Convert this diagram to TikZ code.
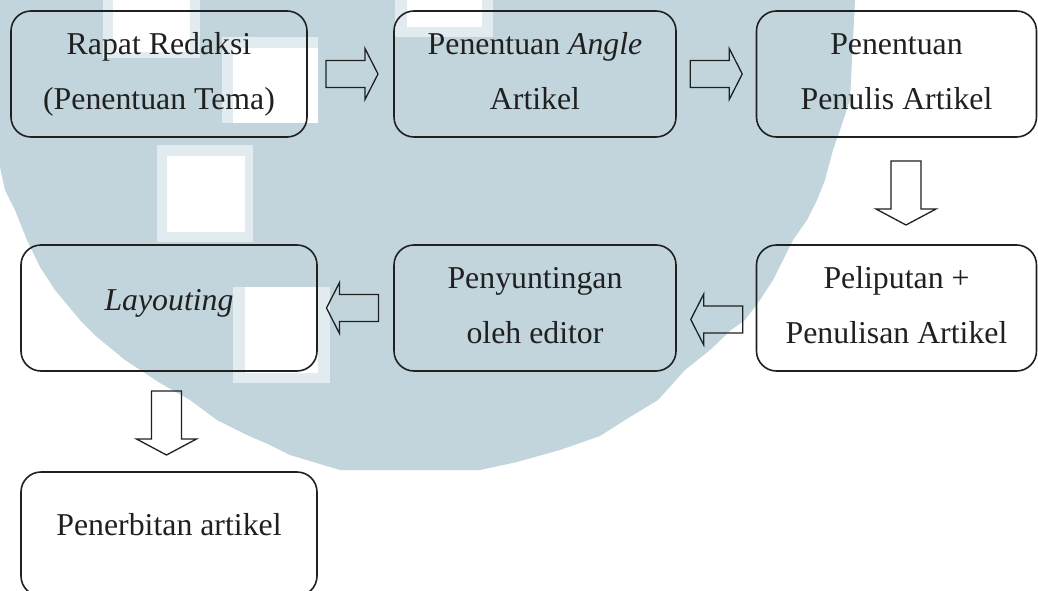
\documentclass[tikz,border=0pt]{standalone}
\usepackage{fontspec}
\setmainfont{Liberation Serif}
\usetikzlibrary{calc}
\definecolor{wm}{RGB}{194,213,220}
\definecolor{wmfringe}{RGB}{226,236,240}
\definecolor{ink}{RGB}{32,32,32}
\newcommand\lnfix{\vphantom{(Ay}}
\tikzset{
  stepbox/.style={draw=ink, line width=1.6pt, rounded corners=20pt, minimum height=126pt,
    inner sep=0pt, align=center, text=ink, font=\fontsize{31.8}{55}\selectfont},
  blk/.style={draw=ink, line width=1.3pt, line join=miter},
  wmsq/.style={fill=wmfringe, draw=none},
  wmin/.style={fill=white, draw=none},
  pics/rarr/.style={code={\draw[blk] (-26,-13.5) -- (13,-13.5) -- (13,-25.5) -- (26,0) -- (13,25.5) -- (13,13.5) -- (-26,13.5) -- cycle;}},
  pics/larr/.style={code={\draw[blk] (26,-13.5) -- (-13,-13.5) -- (-13,-25.5) -- (-26,0) -- (-13,25.5) -- (-13,13.5) -- (26,13.5) -- cycle;}},
  pics/darr/.style={code={\draw[blk] (-15,-32) -- (15,-32) -- (15,16) -- (30,16) -- (0,32) -- (-30,16) -- (-15,16) -- cycle;}},
}
\begin{document}
\begin{tikzpicture}[x=1pt,y=-1pt]
\useasboundingbox (0,0) rectangle (1038,591);
\fill[white] (0,0) rectangle (1038,591);
% watermark
\fill[wm] (0,0) -- (855,0) -- (850,100) -- (840,130) -- (833,150) -- (825,180) -- (817,200) -- (807,220)
  -- (793,240) -- (783,260) -- (773,280) -- (760,300) -- (745,320) -- (731,330) -- (710,350) -- (685,370)
  -- (658,400) -- (625,420) -- (600,436) -- (560,450) -- (517,462) -- (480,470) -- (340,470)
  -- (290,455) -- (270,445) -- (247,435) -- (217,420) -- (190,400) -- (160,383) -- (125,360) -- (97,337)
  -- (80,320) -- (55,290) -- (40,267) -- (27,240) -- (15,210) -- (5,190) -- (0,167) -- cycle;
\fill[wmsq] (103,0) rectangle (200,58);   \fill[wmin] (113,0) rectangle (190,52);
\fill[wmsq] (222,37) rectangle (318,123); \fill[wmin] (233,48) rectangle (318,123);
\fill[wmsq] (157,145) rectangle (253,242); \fill[wmin] (167,156) rectangle (245,232);
\fill[wmsq] (233,287) rectangle (330,383); \fill[wmin] (245,287) rectangle (318,373);
\fill[wmsq] (395,0) rectangle (493,37);   \fill[wmin] (407,0) rectangle (482,27);

% boxes
\node[stepbox, minimum width=296pt] (b1) at (159,74) {\lnfix Rapat Redaksi\\\lnfix(Penentuan Tema)};
\node[stepbox, minimum width=282pt] (b2) at (535,74) {\lnfix Penentuan \textit{Angle}\\\lnfix Artikel};
\node[stepbox, minimum width=280pt] (b3) at (896.5,74) {\lnfix Penentuan\\\lnfix Penulis Artikel};
\node[stepbox, minimum width=296pt] (b4) at (169,308) {\raisebox{5.5pt}[22pt][7pt]{\textit{Layouting}}};
\node[stepbox, minimum width=282pt] (b5) at (535,308) {\lnfix Penyuntingan\\\lnfix oleh editor};
\node[stepbox, minimum width=280pt] (b6) at (896.5,308) {\lnfix Peliputan +\\\lnfix Penulisan Artikel};
\node[stepbox, minimum width=296pt, minimum height=124pt] (b7) at (169,534) {\raisebox{6.5pt}[22pt][7pt]{Penerbitan artikel}};

% block arrows
\pic (a1) at ($(b1.east)!.5!(b2.west)+(1.5,0)$) {rarr};
\pic (a2) at ($(b2.east)!.5!(b3.west)$) {rarr};
\pic (a3) at ($(b3.south)!.5!(b6.north)+(9.5,2)$) {darr};
\pic (a4) at ($(b6.west)!.5!(b5.east)+(0.5,11.5)$) {larr};
\pic (a5) at ($(b5.west)!.5!(b4.east)+(-3,0)$) {larr};
\pic (a6) at ($(b4.south)!.5!(b7.north)+(-2.5,1.5)$) {darr};
\end{tikzpicture}
\end{document}
